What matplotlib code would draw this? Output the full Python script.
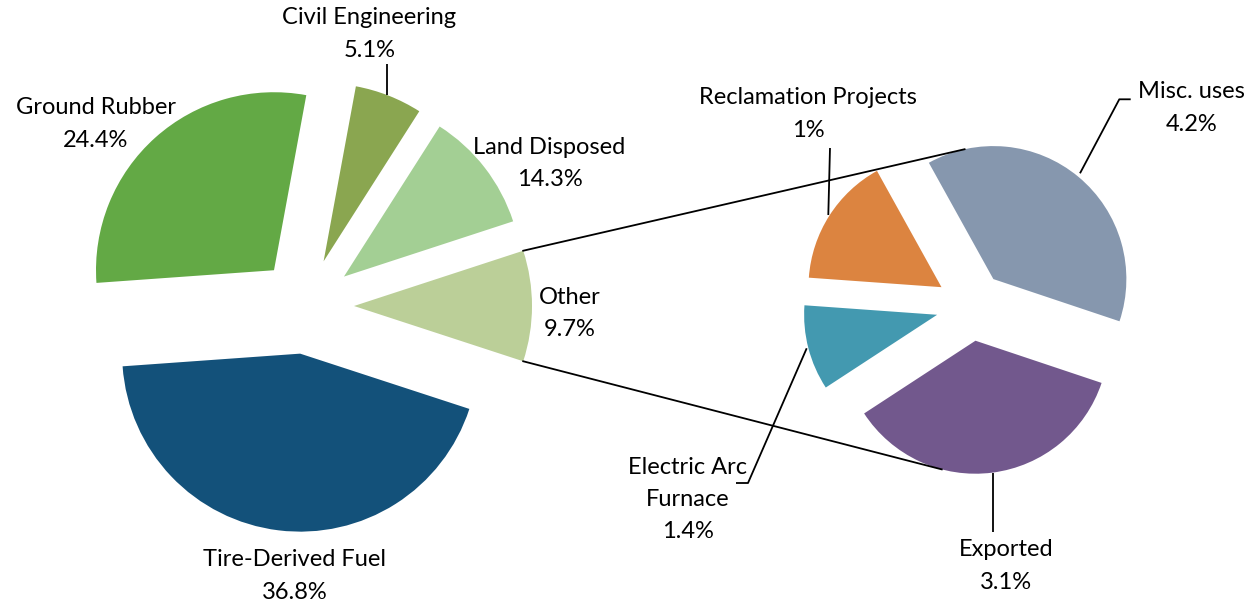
import numpy as np
import matplotlib
matplotlib.use('Agg')
import matplotlib.pyplot as plt

plt.rcParams['font.family'] = ['Lato', 'DejaVu Sans']

# main pie (counter-clockwise from the "Other" slice)
main_names = ['Other', 'Land Disposed', 'Civil Engineering', 'Ground Rubber', 'Tire-Derived Fuel']
main_pct_labels = ['9.7%', '14.3%', '5.1%', '24.4%', '36.8%']
main_shares = [10.05, 10.94, 6.13, 29.04, 43.84]   # slice sizes as drawn
main_colors = ['#bbcf98', '#a3cf94', '#8aa650', '#63a945', '#13517a']

# breakdown of "Other"
sub_names = ['Misc. uses', 'Reclamation Projects', 'Electric Arc\nFurnace', 'Exported']
sub_pct_labels = ['4.2%', '1%', '1.4%', '3.1%']
sub_shares = [38.2, 15.8, 10.35, 35.65]
sub_colors = ['#8697ae', '#dc8440', '#4399b0', '#72588d']

W, H = 1253, 603
fig = plt.figure(figsize=(W / 100, H / 100), dpi=100)
ax = fig.add_axes([0, 0, 1, 1])

c1, r1 = (306, 297), 178
c2, r2 = (971, 297), 133

# explode is in data units here (axes are in pixels)
w1, _ = ax.pie(main_shares, colors=main_colors, radius=r1, center=c1,
               startangle=-main_shares[0] / sum(main_shares) * 180,
               explode=[48] * len(main_shares), counterclock=True,
               wedgeprops={'linewidth': 0})
w2, _ = ax.pie(sub_shares, colors=sub_colors, radius=r2, center=c2,
               startangle=-18.5, explode=[35] * len(sub_shares),
               counterclock=True, wedgeprops={'linewidth': 0})

ax.set_xlim(0, W)
ax.set_ylim(0, H)
ax.set_aspect('equal')
ax.axis('off')


def arc_point(w, ang):
    a = np.deg2rad(ang)
    return w.center[0] + w.r * np.cos(a), w.center[1] + w.r * np.sin(a)


# connector lines between "Other" and the breakdown pie
other = w1[0]
p_top = arc_point(other, other.theta2)
p_bot = arc_point(other, other.theta1)
q_top = arc_point(w2[0], 102.5)
q_bot = arc_point(w2[3], 255.3)
ax.plot([p_top[0], q_top[0]], [p_top[1], q_top[1]], color='black', lw=1.3)
ax.plot([p_bot[0], q_bot[0]], [p_bot[1], q_bot[1]], color='black', lw=1.3)

# leader lines (screen pixels, y from top)
leaders = [
    [(386.7, 64), (386.7, 95)],
    [(830, 148), (828.3, 215)],
    [(1130.7, 99.3), (1119.3, 99.3), (1080, 173.3)],
    [(736, 483), (748, 483), (806.7, 348.3)],
    [(992.7, 473), (992.7, 531.7)],
]
for pts in leaders:
    xs = [p[0] for p in pts]
    ys = [H - p[1] for p in pts]
    ax.plot(xs, ys, color='black', lw=1.3, solid_capstyle='butt')

# label positions: centre x, centre y of first line (pixels from top)
main_label_pos = [(570, 297), (549.5, 147), (369.5, 18), (96, 108), (294.5, 560)]
sub_label_pos = [(1191.7, 92), (808, 98), (688, 467), (1006, 550)]

step = 32.5
fs = 17


def put_label(name, pct, pos):
    lines = name.split('\n') + [pct]
    for i, s in enumerate(lines):
        ax.text(pos[0], H - (pos[1] + i * step), s, ha='center', va='center',
                fontsize=fs, color='black')


for n, p, pos in zip(main_names, main_pct_labels, main_label_pos):
    put_label(n, p, pos)
for n, p, pos in zip(sub_names, sub_pct_labels, sub_label_pos):
    put_label(n, p, pos)

fig.savefig('out.png', dpi=100)
